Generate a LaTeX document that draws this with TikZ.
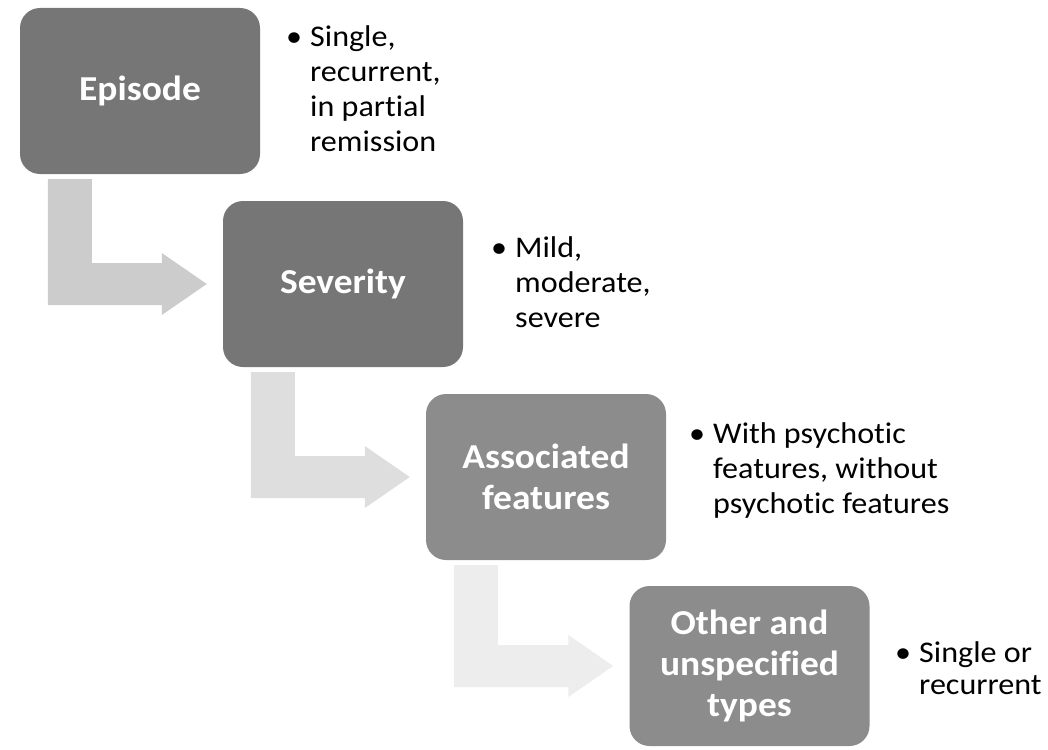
\documentclass[tikz,border=0pt]{standalone}
\usepackage{fontspec}
\setmainfont{Carlito}[Ligatures=NoCommon,FakeStretch=1.07]
\usetikzlibrary{calc}
\definecolor{boxdark}{HTML}{767676}
\definecolor{boxlight}{HTML}{8C8C8C}
\definecolor{arrowa}{HTML}{CCCCCC}
\definecolor{arrowb}{HTML}{DEDEDE}
\definecolor{arrowc}{HTML}{EDEDED}
\tikzset{
  stage/.style={rounded corners=20pt,minimum width=240pt,minimum height=166pt,
    inner sep=0pt,text=white,align=center,font=\fontsize{35}{41}\selectfont\bfseries},
  notes/.style={anchor=base west,inner sep=0pt,font=\fontsize{30}{35}\selectfont}
}
% bent block arrow from the bottom of one stage to the side of the next
\newcommand{\bentarrow}[3]{%
  \fill[#1] let \p1=(#2.south west), \p2=(#3.west) in
    (\x1+28pt,\y1-5pt) -- (\x1+72pt,\y1-5pt) -- (\x1+72pt,\y2+21pt)
    -- (\x2-61pt,\y2+21pt) -- (\x2-61pt,\y2+31pt) -- (\x2-16pt,\y2)
    -- (\x2-61pt,\y2-31pt) -- (\x2-61pt,\y2-21pt) -- (\x1+28pt,\y2-21pt) -- cycle;}
\newcommand{\bul}[1]{\begin{tabular}[t]{@{}p{24pt}@{}l@{}}\textbullet & #1\end{tabular}}
\begin{document}
\begin{tikzpicture}[x=1pt,y=-1pt]
\useasboundingbox (0,0) rectangle (1048,749);
\node[stage,fill=boxdark] (episode) at (140,91) {Episode};
\node[stage,fill=boxdark] (severity) at (343,284) {Severity};
\node[stage,fill=boxlight] (assoc) at (546,477) {Associated\\features};
\node[stage,fill=boxlight,minimum height=160pt] (other) at (749.5,666) {Other and\\unspecified\\types};
\bentarrow{arrowa}{episode}{severity}
\bentarrow{arrowb}{severity}{assoc}
\bentarrow{arrowc}{assoc}{other}
\node[notes] (epnotes) at (286,47) {\bul{Single,\\ & recurrent,\\ & in partial\\ & remission}};
\node[notes] (sevnotes) at (491,257) {\bul{Mild,\\ & moderate,\\ & severe}};
\node[notes] (assocnotes) at (689,443) {\bul{With psychotic\\ & features, without\\ & psychotic features}};
\node[notes,font=\fontsize{30}{32}\selectfont] (othernotes) at (895,662) {\bul{Single or\\ & recurrent}};
\end{tikzpicture}
\end{document}
